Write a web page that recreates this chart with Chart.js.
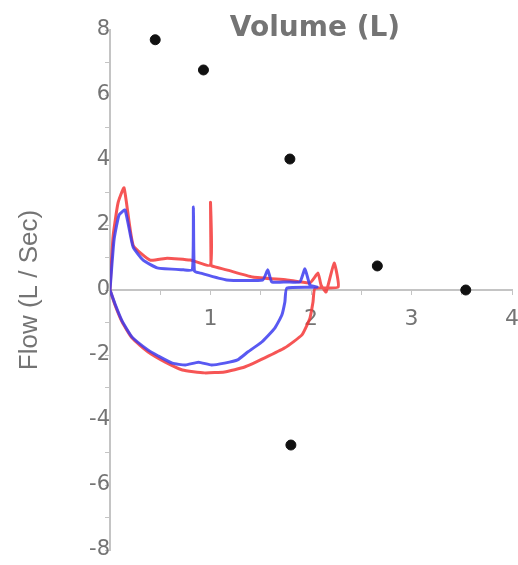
<!DOCTYPE html>
<html>
<head>
<meta charset="utf-8">
<script src="https://cdn.jsdelivr.net/npm/chart.js@4.4.1/dist/chart.umd.min.js"></script>
<style>
  html, body { margin: 0; padding: 0; background: #fff; }
  #wrap { width: 518px; height: 565px; }
</style>
</head>
<body>
<div id="wrap"><canvas id="loopChart" width="518" height="565"></canvas></div>
<script>
// red loop (volume L, flow L/s)
const redVolume = [0, 0.03, 0.08, 0.14, 0.23, 0.40, 0.57, 0.80, 1.00, 1.00, 1.005, 1.01, 1.16, 1.42, 1.76, 1.99, 2.07, 2.10, 2.15, 2.23, 2.27, 2.04,
  2.02, 1.99, 1.91, 1.74, 1.54, 1.34, 1.14, 0.94, 0.72, 0.55, 0.38, 0.22, 0.12, 0.05, 0];
const redFlow = [0, 1.63, 2.68, 3.14, 1.38, 0.92, 0.98, 0.92, 0.77, 2.70, 0.80, 0.74, 0.62, 0.40, 0.31, 0.22, 0.52, 0.15, -0.06, 0.83, 0.09, 0.05,
  -0.37, -0.86, -1.38, -1.78, -2.09, -2.37, -2.52, -2.55, -2.46, -2.22, -1.91, -1.48, -0.98, -0.46, 0];

// blue loop
const blueVolume = [0, 0.04, 0.09, 0.15, 0.23, 0.33, 0.47, 0.73, 0.82, 0.83, 0.84, 0.90, 1.16, 1.52, 1.57, 1.61, 1.76, 1.89, 1.94, 1.99, 2.06, 1.76,
  1.74, 1.71, 1.64, 1.51, 1.37, 1.27, 1.14, 1.01, 0.88, 0.75, 0.62, 0.48, 0.38, 0.22, 0.12, 0.05, 0];
const blueFlow = [0, 1.54, 2.31, 2.46, 1.32, 0.92, 0.68, 0.62, 0.62, 2.55, 0.58, 0.52, 0.31, 0.31, 0.62, 0.25, 0.25, 0.25, 0.65, 0.15, 0.09, 0.06,
  -0.37, -0.77, -1.17, -1.60, -1.91, -2.15, -2.25, -2.31, -2.22, -2.31, -2.25, -2.03, -1.85, -1.45, -0.95, -0.43, 0];

// black reference points
const dotVolume = [0.45, 0.93, 1.79, 2.66, 3.54, 1.80];
const dotFlow = [7.7, 6.77, 4.03, 0.74, 0, -4.77];

const xLabels = [1, 2, 3, 4];
const yLabels = [-8, -6, -4, -2, 0, 2, 4, 6, 8];

const toPoints = (xs, ys) => xs.map((x, i) => ({ x: x, y: ys[i] }));

const axisGray = "#c4c4c4";
const labelGray = "#747474";

// axis titles sit at the top / left like the original
const titlePlugin = {
  id: "titles",
  afterDraw(chart) {
    const { ctx, chartArea } = chart;
    ctx.save();
    ctx.fillStyle = labelGray;
    ctx.font = "bold 28px 'DejaVu Sans'";
    ctx.textAlign = "center";
    ctx.textBaseline = "middle";
    ctx.fillText("Volume (L)", chartArea.left + 205, chartArea.top - 1);

    ctx.translate(30, (chartArea.top + chartArea.bottom) / 2);
    ctx.rotate(-Math.PI / 2);
    ctx.font = "26px 'Liberation Sans'";
    ctx.fillText("Flow (L / Sec)", 0, 0);
    ctx.restore();
  },
};

const noSpace = (s) => {
  if (s.isHorizontal()) s.height = 0;
  else s.width = 0;
  s.paddingTop = 0;
  s.paddingBottom = 0;
  s.paddingLeft = 0;
  s.paddingRight = 0;
};

new Chart(document.getElementById("loopChart"), {
  type: "scatter",
  data: {
    datasets: [
      {
        label: "blue",
        data: toPoints(blueVolume, blueFlow),
        showLine: true,
        borderColor: "rgba(60, 60, 240, 0.85)",
        borderWidth: 3,
        pointRadius: 0,
        tension: 0.15,
      },
      {
        label: "red",
        data: toPoints(redVolume, redFlow),
        showLine: true,
        borderColor: "rgba(245, 55, 55, 0.85)",
        borderWidth: 3,
        pointRadius: 0,
        tension: 0.15,
      },
      {
        label: "dots",
        data: toPoints(dotVolume, dotFlow),
        backgroundColor: "#111",
        borderColor: "#111",
        pointRadius: 5,
      },
    ],
  },
  options: {
    responsive: false,
    animation: false,
    layout: { padding: { left: 110, right: 5, top: 30, bottom: 15 } },
    plugins: {
      legend: { display: false },
      tooltip: { enabled: false },
    },
    scales: {
      x: {
        type: "linear",
        position: { y: 0 },
        min: 0,
        max: 4,
        afterFit: noSpace,
        border: { color: axisGray, width: 2 },
        grid: { drawOnChartArea: false, color: axisGray, tickLength: 4 },
        ticks: {
          stepSize: 0.5,
          padding: 12,
          color: labelGray,
          font: { family: "DejaVu Sans", size: 22 },
          maxRotation: 0,
          autoSkip: false,
          callback: (v) => (xLabels.includes(v) ? String(v) : ""),
        },
      },
      y: {
        type: "linear",
        position: { x: 0 },
        min: -8,
        max: 8,
        afterFit: noSpace,
        border: { color: axisGray, width: 2 },
        grid: { drawOnChartArea: false, color: axisGray, tickLength: 4 },
        ticks: {
          stepSize: 1,
          padding: 10,
          color: labelGray,
          font: { family: "DejaVu Sans", size: 21 },
          autoSkip: false,
          callback: (v) => (yLabels.includes(v) ? String(v) : ""),
        },
      },
    },
  },
  plugins: [titlePlugin],
});
</script>
</body>
</html>
